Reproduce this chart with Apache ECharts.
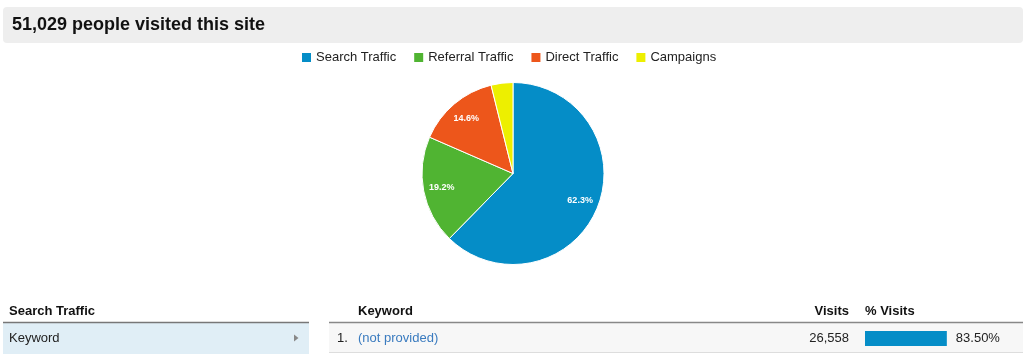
<!DOCTYPE html>
<html>
<head>
<meta charset="utf-8">
<script src="https://cdn.jsdelivr.net/npm/echarts@6/dist/echarts.min.js"></script>
<style>
  html, body { margin: 0; padding: 0; background: #fff; }
  #chart { width: 1028px; height: 354px; }
</style>
</head>
<body>
<div id="chart"></div>
<script>
// data
var totalVisits = 51029;
var sources = ['Search Traffic', 'Referral Traffic', 'Direct Traffic', 'Campaigns'];
var sourceVisits = [31806, 9798, 7450, 1975];
var sourceColors = ['#058dc7', '#50b432', '#ed561b', '#edef00'];

var keywords = ['(not provided)'];
var keywordVisits = [26558];
var keywordPct = [83.50];

var FONT = '"Liberation Sans", Arial, Helvetica, sans-serif';

var chart = echarts.init(document.getElementById('chart'), null, { renderer: 'canvas' });

chart.setOption({
    animation: false,
    textStyle: { fontFamily: FONT },
    legend: {
        data: sources,
        top: 46,
        left: 295,
        itemWidth: 11,
        itemHeight: 11,
        itemGap: 16,
        icon: 'rect',
        selectedMode: false,
        textStyle: { fontSize: 13, color: '#222', fontFamily: FONT, padding: [0, 0, 0, -1] }
    },
    grid: {
        left: 865,
        top: 331,
        width: 98,
        height: 15,
        containLabel: false
    },
    xAxis: { type: 'value', min: 0, max: 100, show: false },
    yAxis: { type: 'category', data: keywords, show: false },
    series: [
        {
            type: 'pie',
            name: 'sources',
            center: [513, 173.5],
            radius: [0, 91],
            startAngle: 90,
            clockwise: true,
            silent: true,
            itemStyle: { borderColor: '#fff', borderWidth: 1 },
            label: { show: false },
            labelLine: { show: false },
            data: sources.map(function (name, i) {
                return { name: name, value: sourceVisits[i], itemStyle: { color: sourceColors[i] } };
            })
        },
        {
            // label carrier only, so the percentages sit further out than mid-radius
            type: 'pie',
            name: 'labels',
            center: [513, 173.5],
            radius: [48, 91],
            startAngle: 90,
            percentPrecision: 1,
            silent: true,
            legendHoverLink: false,
            itemStyle: { color: 'rgba(0,0,0,0)', borderWidth: 0 },
            emphasis: { disabled: true },
            label: {
                show: true,
                position: 'inside',
                formatter: function (p) {
                    // the smallest slice carries no label
                    return p.percent > 5 ? p.percent.toFixed(1) + '%' : '';
                },
                color: '#fff',
                fontSize: 9,
                fontWeight: 'bold',
                fontFamily: FONT
            },
            labelLine: { show: false },
            data: sources.map(function (name, i) {
                return { name: name, value: sourceVisits[i] };
            })
        },
        {
            type: 'bar',
            data: keywordPct,
            barWidth: '100%',
            silent: true,
            itemStyle: { color: '#058dc7' },
            label: {
                show: true,
                position: 'right',
                distance: 9,
                color: '#222',
                fontSize: 13,
                fontFamily: FONT,
                formatter: function (p) { return p.value.toFixed(2) + '%'; }
            }
        }
    ],
    graphic: [
        // header
        { type: 'rect', shape: { x: 3, y: 7, width: 1020, height: 36, r: 4 }, style: { fill: '#eeeeee' }, silent: true },
        { type: 'text', x: 12, y: 25, style: {
            text: totalVisits.toLocaleString('en-US') + ' people visited this site',
            font: 'bold 18px ' + FONT, fill: '#111', verticalAlign: 'middle' } },

        // left panel
        { type: 'text', x: 9, y: 311, style: { text: sources[0], font: 'bold 13px ' + FONT, fill: '#111', verticalAlign: 'middle' } },
        { type: 'rect', shape: { x: 3, y: 323, width: 306, height: 31 }, style: { fill: '#e0eef6' } },
        { type: 'line', shape: { x1: 3, y1: 322.5, x2: 309, y2: 322.5 }, style: { stroke: '#777', lineWidth: 1.5 } },
        { type: 'text', x: 9, y: 338, style: { text: 'Keyword', font: '13px ' + FONT, fill: '#222', verticalAlign: 'middle' } },
        { type: 'polygon', shape: { points: [[294, 334.5], [298.5, 338], [294, 341.5]] }, style: { fill: '#888' } },

        // right panel
        { type: 'rect', shape: { x: 329, y: 323, width: 694, height: 29 }, style: { fill: '#f7f7f7' } },
        { type: 'line', shape: { x1: 329, y1: 322.5, x2: 1023, y2: 322.5 }, style: { stroke: '#888', lineWidth: 1.5 } },
        { type: 'line', shape: { x1: 329, y1: 352.5, x2: 1023, y2: 352.5 }, style: { stroke: '#dddddd', lineWidth: 1 } },
        { type: 'text', x: 358, y: 311, style: { text: 'Keyword', font: 'bold 13px ' + FONT, fill: '#111', verticalAlign: 'middle' } },
        { type: 'text', x: 849, y: 311, style: { text: 'Visits', font: 'bold 13px ' + FONT, fill: '#111', align: 'right', verticalAlign: 'middle' } },
        { type: 'text', x: 865, y: 311, style: { text: '% Visits', font: 'bold 13px ' + FONT, fill: '#111', verticalAlign: 'middle' } },
        { type: 'text', x: 337, y: 338, style: { text: '1.', font: '13px ' + FONT, fill: '#222', verticalAlign: 'middle' } },
        { type: 'text', x: 358, y: 338, style: { text: keywords[0], font: '13px ' + FONT, fill: '#3a7bbf', verticalAlign: 'middle' } },
        { type: 'text', x: 849, y: 338, style: {
            text: keywordVisits[0].toLocaleString('en-US'),
            font: '13px ' + FONT, fill: '#222', align: 'right', verticalAlign: 'middle' } }
    ]
});
</script>
</body>
</html>
